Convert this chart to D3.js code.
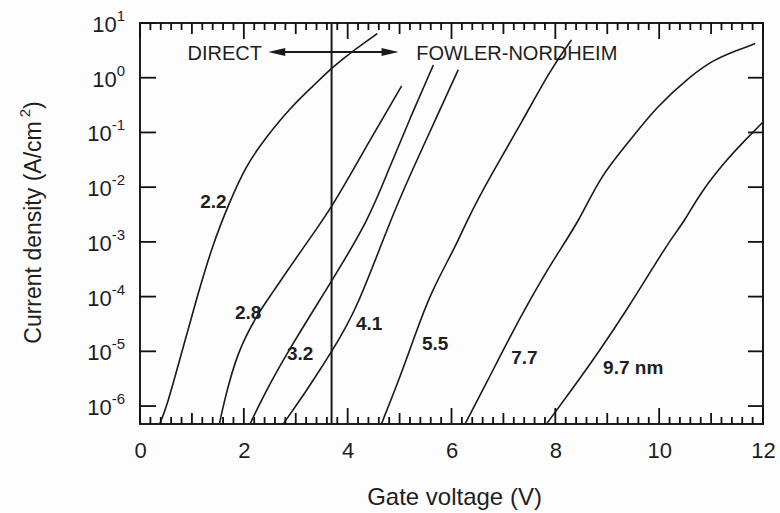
<!DOCTYPE html>
<html>
<head>
<meta charset="utf-8">
<script src="https://cdn.jsdelivr.net/npm/d3@7"></script>
<style>
    body { margin: 0; background: #fdfdfd; }
    svg text { font-family: "Liberation Sans", Arial, Helvetica, sans-serif; fill: #1e1e1e; }
</style>
</head>
<body>
<div class="chart-container"></div>
<script>
//oxide thickness of each curve (nm)
var thicknesses = ["2.2", "2.8", "3.2", "4.1", "5.5", "7.7", "9.7"];

//[gate voltage (V), current density (A/cm2)]
var curve22 = [[0.38, 4.7e-7], [0.52, 1e-6], [0.81, 1e-5], [1.10, 1e-4], [1.41, 9.5e-4], [1.70, 4.7e-3],
               [2.04, 2.5e-2], [2.43, 8.2e-2], [2.89, 0.28], [3.33, 0.70], [3.72, 1.6], [4.14, 3.3], [4.57, 6.4]];
var curve28 = [[1.53, 4.7e-7], [1.60, 1e-6], [1.87, 1e-5], [2.31, 5.6e-5], [2.50, 1e-4], [3.11, 7.1e-4],
               [3.69, 4.1e-3], [4.35, 5.4e-2], [5.04, 0.71]];
var curve32 = [[2.12, 4.7e-7], [2.37, 1.5e-6], [2.86, 1.05e-5], [3.69, 1.9e-4], [4.40, 2.5e-3], [4.77, 1.9e-2],
               [5.20, 0.18], [5.65, 1.7]];
var curve41 = [[2.76, 4.7e-7], [3.15, 1.6e-6], [3.34, 3e-6], [3.69, 9.8e-6], [4.17, 5.6e-5], [4.82, 2.5e-3],
               [5.24, 2.0e-2], [5.70, 0.18], [6.13, 1.4]];
var curve55 = [[4.65, 4.7e-7], [5.01, 3.4e-6], [5.30, 2e-5], [5.59, 1.15e-4], [6.10, 9e-4], [6.29, 2.4e-3],
               [6.74, 1.55e-2], [7.38, 0.17], [7.90, 1.38], [8.31, 4.9]];
var curve77 = [[6.26, 4.7e-7], [6.74, 3.5e-6], [7.06, 1.4e-5], [7.51, 8.7e-5], [7.96, 4.7e-4], [8.47, 2.5e-3],
               [8.86, 1.55e-2], [9.44, 7.2e-2], [9.95, 0.295], [10.59, 1.05], [11.04, 2.1], [11.43, 3.0], [11.85, 4.2]];
var curve97 = [[7.83, 4.7e-7], [8.35, 2.2e-6], [8.86, 1.05e-5], [9.37, 5.6e-5], [9.89, 3.5e-4], [10.21, 1.07e-3],
               [10.50, 2.5e-3], [10.79, 7.8e-3], [11.30, 3.2e-2], [11.69, 7.8e-2], [12.0, 0.155]];
var series = [curve22, curve28, curve32, curve41, curve55, curve77, curve97];

//curve labels, anchored at (V, J) = left edge / middle of the text
var curveLabels = ["2.2", "2.8", "3.2", "4.1", "5.5", "7.7", "9.7 nm"];
var labelV = [1.16, 1.83, 2.83, 4.16, 5.43, 7.15, 8.92];
var labelJ = [5.6e-3, 5.2e-5, 9.3e-6, 3.3e-5, 1.4e-5, 7.9e-6, 5.1e-6];

//axes
var xTicks = [0, 2, 4, 6, 8, 10, 12];
var xMidTicks = [1, 3, 5, 7, 9, 11];
var yTicks = [1e-6, 1e-5, 1e-4, 1e-3, 1e-2, 1e-1, 1e0, 1e1];
var yExponents = ["-6", "-5", "-4", "-3", "-2", "-1", "0", "1"];

//direct / Fowler-Nordheim boundary and arrow
var boundaryV = 3.69;
var arrowV = [2.47, 4.98], arrowJ = 2.95;
var directEndV = 2.35, fnStartV = 5.32;

var margin = { top: 23, right: 17, bottom: 89, left: 140 },
    width = 780 - (margin.left + margin.right),
    height = 513 - (margin.top + margin.bottom);

var svg = d3.select(".chart-container").append("svg")
        .attr("width", 780)
        .attr("height", 513)
    .append("g")
        .attr("transform", "translate(" + margin.left + "," + margin.top + ")");

var x = d3.scaleLinear()
    .domain([0, 12])
    .range([0, width]);

var y = d3.scaleLog()
    .domain([4.7e-7, 10])
    .range([height, 0]);

//bottom tick labels
svg.append("g")
    .attr("transform", "translate(0," + height + ")")
    .call(d3.axisBottom(x).tickValues(xTicks).tickSize(0).tickPadding(18).tickFormat(d3.format("d")))
    .call(function(g) { g.select(".domain").remove(); })
    .selectAll("text")
        .style("font-size", "22px");

//y tick labels 10^n
svg.append("g")
    .selectAll("text")
    .data(yTicks)
    .enter().append("text")
        .attr("x", -15)
        .attr("y", function(d) { return y(d) + 9; })
        .attr("text-anchor", "end")
        .style("font-size", "22px")
        .each(function(d, i) {
            var t = d3.select(this);
            t.append("tspan").text("10");
            t.append("tspan").attr("dy", -11).style("font-size", "15px").text(yExponents[i]);
        });

svg.append("clipPath")
        .attr("id", "plot-clip")
    .append("rect")
        .attr("width", width)
        .attr("height", height);

var curveLine = d3.line()
    .x(function(d) { return x(d[0]); })
    .y(function(d) { return y(d[1]); })
    .curve(d3.curveBasis);

svg.append("g")
        .attr("clip-path", "url(#plot-clip)")
    .selectAll("path")
    .data(series)
    .enter().append("path")
        .attr("class", function(d, i) { return "curve t" + thicknesses[i]; })
        .attr("d", curveLine)
        .attr("fill", "none")
        .attr("stroke", "#1a1a1a")
        .attr("stroke-width", 1.6);

svg.append("g")
    .selectAll("text")
    .data(curveLabels)
    .enter().append("text")
        .attr("x", function(d, i) { return x(labelV[i]); })
        .attr("y", function(d, i) { return y(labelJ[i]); })
        .attr("dy", "0.36em")
        .style("font-size", "19px")
        .style("font-weight", "bold")
        .text(function(d) { return d; });

//boundary line
svg.append("line")
    .attr("x1", x(boundaryV))
    .attr("x2", x(boundaryV))
    .attr("y1", 0)
    .attr("y2", height)
    .attr("stroke", "#1a1a1a")
    .attr("stroke-width", 2);

//double arrow
var ay = y(arrowJ), ax0 = x(arrowV[0]), ax1 = x(arrowV[1]);
svg.append("line")
    .attr("x1", ax0 + 10)
    .attr("x2", ax1 - 10)
    .attr("y1", ay)
    .attr("y2", ay)
    .attr("stroke", "#1a1a1a")
    .attr("stroke-width", 2);
svg.append("path")
    .attr("d", "M" + ax0 + "," + ay + "L" + (ax0 + 17) + "," + (ay - 4) + "L" + (ax0 + 17) + "," + (ay + 4) + "Z"
        + "M" + ax1 + "," + ay + "L" + (ax1 - 17) + "," + (ay - 4) + "L" + (ax1 - 17) + "," + (ay + 4) + "Z")
    .attr("fill", "#1a1a1a");

svg.append("text")
    .attr("x", x(directEndV))
    .attr("y", ay + 7.5)
    .attr("text-anchor", "end")
    .style("font-size", "20px")
    .text("DIRECT");
svg.append("text")
    .attr("x", x(fnStartV))
    .attr("y", ay + 7.5)
    .style("font-size", "20px")
    .text("FOWLER-NORDHEIM");

//axis titles
svg.append("text")
    .attr("x", width / 2 + 3)
    .attr("y", height + 81)
    .attr("text-anchor", "middle")
    .style("font-size", "24px")
    .text("Gate voltage (V)");

var yTitle = svg.append("text")
    .attr("transform", "translate(-99," + (height / 2 - 1) + ") rotate(-90)")
    .attr("text-anchor", "middle")
    .style("font-size", "23px");
yTitle.append("tspan").text("Current density (A/cm");
yTitle.append("tspan").attr("dx", 4).attr("dy", -11).style("font-size", "15px").text("2");
yTitle.append("tspan").attr("dy", 11).text(")");

//frame
svg.append("rect")
    .attr("width", width)
    .attr("height", height)
    .attr("fill", "none")
    .attr("stroke", "#1e1e1e")
    .attr("stroke-width", 2);

//inward tick marks on all four sides as thin bars, minor every 0.2 V
var xMinor = d3.range(0, 12.001, 0.2).filter(function(v) { return Math.abs(v - Math.round(v)) > 0.01; });
var xTickSpecs = [];
[[xMinor, 7], [xMidTicks, 11], [xTicks, 16]].forEach(function(t) {
    t[0].forEach(function(v) { xTickSpecs.push({ v: v, size: t[1] }); });
});

var tickBars = svg.append("g").attr("fill", "#111");

tickBars.selectAll("rect.xb")
    .data(xTickSpecs)
    .enter().append("rect")
        .attr("class", "xb")
        .attr("x", function(d) { return x(d.v) - 0.9; })
        .attr("y", function(d) { return height - d.size; })
        .attr("width", 1.8)
        .attr("height", function(d) { return d.size; });
tickBars.selectAll("rect.xt")
    .data(xTickSpecs)
    .enter().append("rect")
        .attr("class", "xt")
        .attr("x", function(d) { return x(d.v) - 0.9; })
        .attr("y", 0)
        .attr("width", 1.8)
        .attr("height", function(d) { return d.size; });
tickBars.selectAll("rect.yl")
    .data(yTicks)
    .enter().append("rect")
        .attr("class", "yl")
        .attr("x", 0)
        .attr("y", function(d) { return y(d) - 0.9; })
        .attr("width", 16)
        .attr("height", 1.8);
tickBars.selectAll("rect.yr")
    .data(yTicks)
    .enter().append("rect")
        .attr("class", "yr")
        .attr("x", width - 15)
        .attr("y", function(d) { return y(d) - 0.9; })
        .attr("width", 15)
        .attr("height", 1.8);
</script>
</body>
</html>
